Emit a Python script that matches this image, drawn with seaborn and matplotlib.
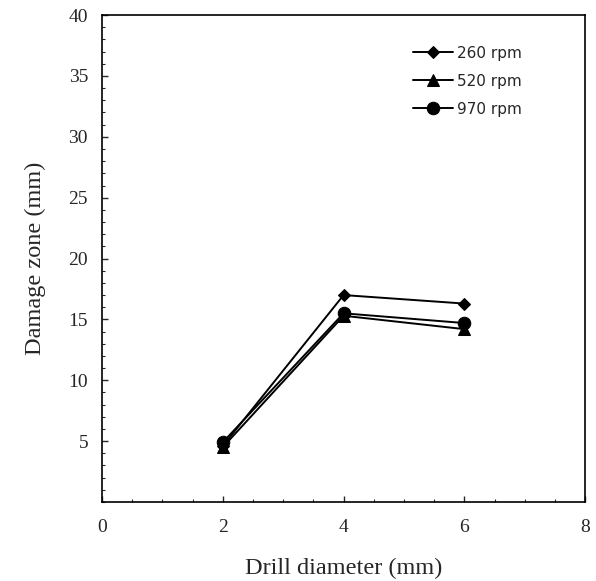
import matplotlib
matplotlib.use("Agg")
import matplotlib.pyplot as plt
import seaborn as sns
import pandas as pd
from matplotlib.ticker import MultipleLocator, FixedLocator

drill_diameter = [2, 4, 6]
rpm_260 = [4.6, 17.0, 16.3]
rpm_520 = [4.5, 15.3, 14.2]
rpm_970 = [4.9, 15.5, 14.7]
series_labels = ["260 rpm", "520 rpm", "970 rpm"]

rows = []
for lab, vals in zip(series_labels, [rpm_260, rpm_520, rpm_970]):
    for x, y in zip(drill_diameter, vals):
        rows.append({"Drill diameter": x, "Damage zone": y, "Speed": lab})
df = pd.DataFrame(rows)

sns.set_style("ticks")
fig = plt.figure(figsize=(5.96, 5.81), dpi=100)
ax = fig.add_axes([0.171, 0.136, 0.811, 0.838])

sns.lineplot(data=df, x="Drill diameter", y="Damage zone", style="Speed",
             markers=["D", "^", "o"], dashes=False, color="black",
             markersize=8, linewidth=1.4, markeredgecolor="black", ax=ax)

msizes = {"D": 6.3, "^": 8.5, "o": 9}
for ln in ax.lines:
    m = ln.get_marker()
    if m in msizes:
        ln.set_markersize(msizes[m])

ax.set_xlim(0, 8)
ax.set_ylim(0, 40)
ax.xaxis.set_major_locator(FixedLocator([0, 2, 4, 6, 8]))
ax.yaxis.set_major_locator(FixedLocator([5, 10, 15, 20, 25, 30, 35, 40]))
ax.yaxis.set_minor_locator(MultipleLocator(1))
ax.xaxis.set_minor_locator(MultipleLocator(0.5))
ax.tick_params(axis="both", which="major", direction="in", length=4, width=1,
               labelsize=14)
ax.tick_params(axis="x", which="major", pad=12)
ax.tick_params(axis="y", which="major", pad=10)
ax.tick_params(axis="both", which="minor", direction="in", length=2, width=0.8)
for lbl in ax.get_xticklabels() + ax.get_yticklabels():
    lbl.set_fontfamily("Liberation Serif")
for sp in ax.spines.values():
    sp.set_linewidth(1.2)
    sp.set_color("black")

ax.set_xlabel("Drill diameter (mm)", fontfamily="Liberation Serif", fontsize=17.5, labelpad=16)
ax.set_ylabel("Damage zone (mm)", fontfamily="Liberation Serif", fontsize=17.5, labelpad=16)

leg = ax.legend(loc="upper left", bbox_to_anchor=(0.631, 0.95), frameon=False,
                borderaxespad=0,
                prop={"family": "DejaVu Sans", "size": 11}, handlelength=2.6,
                handletextpad=0.3, labelspacing=0.85)

fig.savefig("out.png", dpi=100)
